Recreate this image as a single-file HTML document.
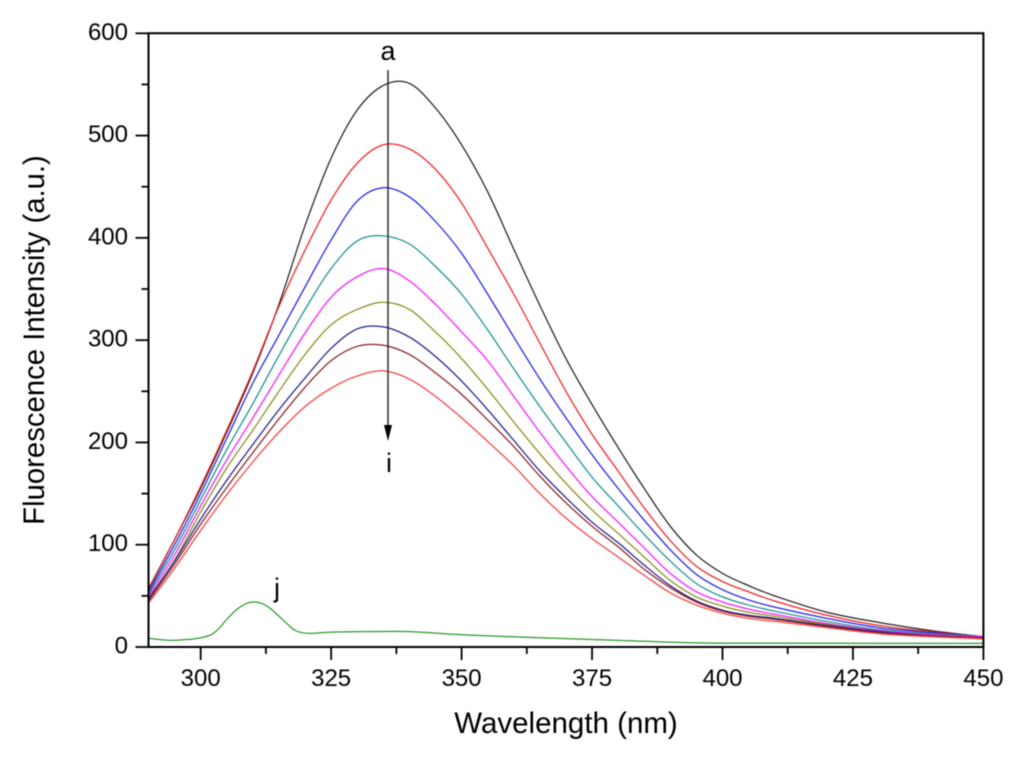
<!DOCTYPE html>
<html lang="en">
<head>
<meta charset="utf-8">
<title>Fluorescence Intensity vs Wavelength</title>
<style>
html,body{margin:0;padding:0;background:#fff;}
#chart{display:block;width:1024px;height:762px;filter:blur(0.4px);}
text{font-family:"Liberation Sans",sans-serif;fill:#000;}
</style>
</head>
<body>
<svg id="chart" xmlns="http://www.w3.org/2000/svg" width="1024" height="762" viewBox="0 0 1024 762">
<rect x="0" y="0" width="1024" height="762" fill="#fff"/>
<g id="series" fill="none" stroke-linejoin="round"></g>
<g id="axes"></g>
<text x="566" y="733" font-size="29.5" text-anchor="middle">Wavelength (nm)</text>
<text transform="translate(44,340) rotate(-90)" font-size="29.3" text-anchor="middle">Fluorescence Intensity (a.u.)</text>
<line x1="388" y1="70" x2="388" y2="428" stroke="#222" stroke-width="1.4"/>
<polygon points="384,425 392,425 388,441" fill="#000"/>
<text x="388" y="60" font-size="27" text-anchor="middle">a</text>
<text x="389" y="472" font-size="27" text-anchor="middle">i</text>
<text x="277" y="597" font-size="27" text-anchor="middle">j</text>
</svg>
<script>
var wavelengths = [290,295,300,305,310,315,320,325,330,335,340,345,350,355,360,365,370,375,380,385,390,395,400,405,410,420,430,440,450];
var curveA = [57,105,155,210,268,335,412,478,525,549,551,527,491,445,389,334,282,237,195,155,118,90,72,60,50,34,24,16,10];
var curveB = [56,105,157,212,270,333,388,437,473,491,487,467,434,390,345,297,250,208,172,136,104,79,64,54,45,31,21,15,10];
var curveC = [54,100,150,204,258,305,352,398,436,449,440,416,385,345,303,262,224,188,155,124,95,71,56,46,39,28,19,14,10];
var curveD = [52,95,144,193,238,285,330,370,397,402,394,372,345,310,272,235,200,166,138,110,84,62,49,41,35,25,17,13,10];
var curveE = [50,90,138,183,224,266,307,342,362,370,358,335,308,280,245,210,177,147,122,97,72,54,44,37,32,23,16,12,10];
var curveF = [48,85,132,175,212,250,286,315,330,337,330,308,282,252,220,189,160,134,111,88,65,49,40,34,30,22,15,11,9];
var curveG = [47,84,125,163,198,232,263,292,311,313,303,284,260,232,202,172,146,122,102,80,60,45,36,31,28,21,15,11,9];
var curveH = [45,81,120,156,190,223,254,280,294,295,286,268,247,222,196,167,141,118,98,76,58,44,35,30,27,20,14,11,9];
var curveI = [43,77,114,149,181,210,235,253,265,270,262,245,224,201,177,150,126,106,88,70,53,41,33,28,25,19,13,10,8];
var curveJWavelengths = [290,294,298,300,302,303.5,305,307,309,310.5,312,313.5,316.5,318,320,322,325,330,340,350,365,380,395,410,430,450];
var curveJ = [8.5,6.5,7.5,9,12,18,27,37,43,44,42,37,23,16.5,13.5,13.5,14.5,15,15,12,9,6.5,4,3.8,3.6,3.5];
var curveNames = ["a","b","c","d","e","f","g","h","i"];
var curveColors = ["#222222","#f02020","#2020f0","#1a9090","#fa18fa","#8c8c1a","#20208c","#8c2020","#f54040"];
var allCurves = [curveA,curveB,curveC,curveD,curveE,curveF,curveG,curveH,curveI];
var xMajorTicks = [300,325,350,375,400,425,450];
var xMinorTicks = [312.5,337.5,362.5,387.5,412.5,437.5];
var yMajorTicks = [0,100,200,300,400,500,600];
var yMinorTicks = [50,150,250,350,450,550];
var X_MIN = 290, X_MAX = 450, Y_MIN = 0, Y_MAX = 600;
var LEFT = 148.5, RIGHT = 983.4, TOP = 33.3, BOTTOM = 647;
var NS = "http://www.w3.org/2000/svg";
function xScale(v){ return LEFT + (v - X_MIN) / (X_MAX - X_MIN) * (RIGHT - LEFT); }
function yScale(v){ return BOTTOM - (v - Y_MIN) / (Y_MAX - Y_MIN) * (BOTTOM - TOP); }
function smoothPath(xs, ys){
  var pts = xs.map(function(x, i){ return [xScale(x), yScale(ys[i])]; });
  var d = "M" + pts[0][0].toFixed(2) + "," + pts[0][1].toFixed(2);
  for (var i = 0; i < pts.length - 1; i++) {
    var p0 = pts[Math.max(i - 1, 0)], p1 = pts[i], p2 = pts[i + 1], p3 = pts[Math.min(i + 2, pts.length - 1)];
    var c1x = p1[0] + (p2[0] - p0[0]) / 6, c1y = p1[1] + (p2[1] - p0[1]) / 6;
    var c2x = p2[0] - (p3[0] - p1[0]) / 6, c2y = p2[1] - (p3[1] - p1[1]) / 6;
    d += " C" + c1x.toFixed(2) + "," + c1y.toFixed(2) + " " + c2x.toFixed(2) + "," + c2y.toFixed(2) + " " + p2[0].toFixed(2) + "," + p2[1].toFixed(2);
  }
  return d;
}
var seriesGroup = document.getElementById("series");
var axesGroup = document.getElementById("axes");
allCurves.forEach(function(values, idx){
  var curve = document.createElementNS(NS, "path");
  
  
  curve.setAttribute("d", smoothPath(wavelengths, values));
  curve.setAttribute("stroke", curveColors[idx]);
  curve.setAttribute("stroke-width", "1.25");
  seriesGroup.appendChild(curve);
});
var curveJPath = document.createElementNS(NS, "path");


curveJPath.setAttribute("d", smoothPath(curveJWavelengths, curveJ));
curveJPath.setAttribute("stroke", "#2a9a2a");
curveJPath.setAttribute("stroke-width", "1.25");
seriesGroup.appendChild(curveJPath);
function addLine(name, x1, y1, x2, y2, w){
  var ln = document.createElementNS(NS, "line");
  
  
  ln.setAttribute("x1", x1); ln.setAttribute("y1", y1);
  ln.setAttribute("x2", x2); ln.setAttribute("y2", y2);
  ln.setAttribute("stroke", "#000");
  ln.setAttribute("stroke-width", w);
  axesGroup.appendChild(ln);
}
function addText(name, x, y, str, anchor){
  var t = document.createElementNS(NS, "text");
  
  
  t.setAttribute("x", x); t.setAttribute("y", y);
  t.setAttribute("font-size", "24");
  t.setAttribute("text-anchor", anchor);
  t.textContent = str;
  axesGroup.appendChild(t);
}
addLine("left-axis-line", LEFT, TOP - 1, LEFT, BOTTOM + 1, 2);
addLine("right-axis-line", RIGHT, TOP - 1, RIGHT, BOTTOM + 1, 2);
addLine("top-axis-line", LEFT, TOP, RIGHT, TOP, 2);
addLine("bottom-axis-line", LEFT, BOTTOM, RIGHT, BOTTOM, 2);
xMajorTicks.forEach(function(v){
  addLine("x-major-tick-" + v, xScale(v), BOTTOM, xScale(v), BOTTOM + 13, 1.8);
  addText("x-tick-label-" + v, xScale(v), 686, String(v), "middle");
});
xMinorTicks.forEach(function(v){
  addLine("x-minor-tick-" + v, xScale(v), BOTTOM, xScale(v), BOTTOM + 7, 1.8);
});
yMajorTicks.forEach(function(v){
  addLine("y-major-tick-" + v, LEFT - 13, yScale(v), LEFT, yScale(v), 1.8);
  addText("y-tick-label-" + v, 128, yScale(v) + 6.5, String(v), "end");
});
yMinorTicks.forEach(function(v){
  addLine("y-minor-tick-" + v, LEFT - 7, yScale(v), LEFT, yScale(v), 1.8);
});
</script>
</body>
</html>
